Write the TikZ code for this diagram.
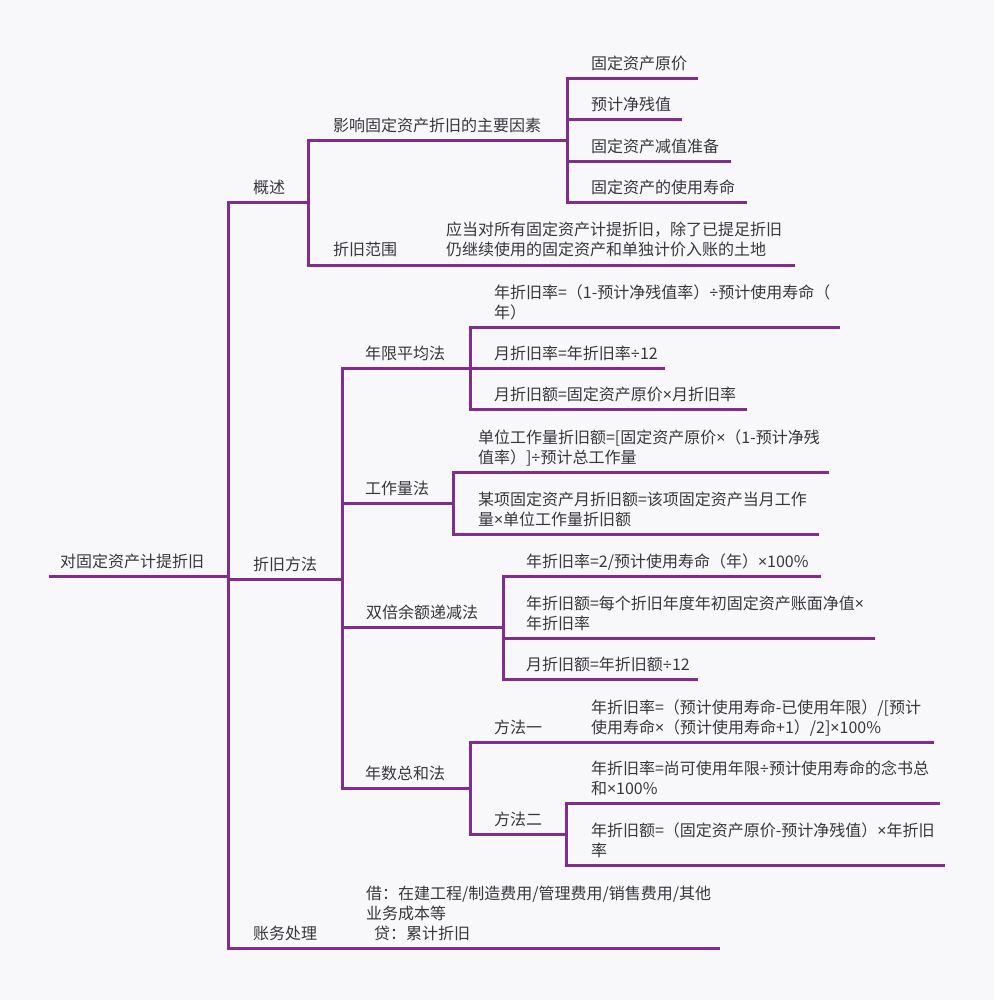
\documentclass[tikz,border=0pt]{standalone}
\usepackage{fontspec}
\newfontfamily\cjk{Noto Sans CJK SC}
\newfontfamily\latn{Noto Sans}
\newcommand{\mulsign}{{\latn ×}}
\newcommand{\divsign}{{\latn ÷}}
\definecolor{mmpurple}{RGB}{128,45,140}
\definecolor{mmtext}{RGB}{55,55,60}
\definecolor{mmback}{RGB}{248,248,250}
\tikzset{topic/.style={anchor=south west, inner sep=0pt, outer sep=0pt, text depth=0pt, align=left, font=\cjk\fontsize{8}{10}\selectfont, text=mmtext},
    branch/.style={draw=mmpurple, line width=1.5pt, line cap=rect}}

\begin{document}
\begin{tikzpicture}[x=0.5pt, y=-0.5pt]
    \fill[mmback] (0,0) rectangle (994,1000);
    \useasboundingbox (0,0) rectangle (994,1000);

    % root and first level
    \coordinate (rootL) at (50,576); \coordinate (rootR) at (228,576);
    \node[topic] (root) at (60,567) {对固定资产计提折旧};
    \coordinate (gsL) at (228,203); \coordinate (gsR) at (308,203);
    \node[topic] (gs) at (253,194) {概述};
    \coordinate (zjffL) at (228,579); \coordinate (zjffR) at (342,579);
    \node[topic] (zjff) at (253,570) {折旧方法};
    \coordinate (zwclL) at (228,948); \coordinate (zwclR) at (340,948);
    \node[topic] (zwcl) at (253,939) {账务处理};

    \draw[branch] (rootL) -- (rootR);
    \draw[branch] (gsL) -- (gsR);
    \draw[branch] (zjffL) -- (zjffR);
    \draw[branch] (zwclL) -- (zwclR);
    \path[branch] (rootR) edge (gsL) edge (zjffL) edge (zwclL);

    % overview
    \begin{scope}
    \coordinate (yxL) at (308,141); \coordinate (yxR) at (567,141);
    \node[topic] (yx) at (333,132) {影响固定资产折旧的主要因素};
    \coordinate (fwL) at (308,265); \coordinate (fwR) at (421,265);
    \node[topic] (fw) at (333,256) {折旧范围};
    \coordinate (fwtL) at (421,265); \coordinate (fwtR) at (793,265);
    \node[topic] (fwt) at (446,256) {应当对所有固定资产计提折旧，除了已提足折旧\\仍继续使用的固定资产和单独计价入账的土地};

    \coordinate (f1L) at (567,79); \coordinate (f1R) at (696,79);
    \node[topic] (f1) at (591,70) {固定资产原价};
    \coordinate (f2L) at (567,120); \coordinate (f2R) at (680,120);
    \node[topic] (f2) at (591,111) {预计净残值};
    \coordinate (f3L) at (567,162); \coordinate (f3R) at (729,162);
    \node[topic] (f3) at (591,153) {固定资产减值准备};
    \coordinate (f4L) at (567,203); \coordinate (f4R) at (745,203);
    \node[topic] (f4) at (591,194) {固定资产的使用寿命};

    \draw[branch] (yxL) -- (yxR);
    \draw[branch] (fwL) -- (fwR);
    \draw[branch] (fwtL) -- (fwtR);
    \draw[branch] (f1L) -- (f1R);
    \draw[branch] (f2L) -- (f2R);
    \draw[branch] (f3L) -- (f3R);
    \draw[branch] (f4L) -- (f4R);
    \path[branch] (gsR) edge (yxL) edge (fwL)
        (yxR) edge (f1L) edge (f2L) edge (f3L) edge (f4L)
        (fwR) edge (fwtL);
    \end{scope}

    % methods
    \begin{scope}
    \coordinate (nxL) at (342,368); \coordinate (nxR) at (470,368);
    \node[topic] (nx) at (365,359) {年限平均法};
    \coordinate (n1L) at (470,327); \coordinate (n1R) at (838,327);
    \node[topic] (n1) at (494,318) {年折旧率=（1-预计净残值率）\divsign 预计使用寿命（\\年）};
    \coordinate (n2L) at (470,368); \coordinate (n2R) at (663,368);
    \node[topic] (n2) at (494,359) {月折旧率=年折旧率\divsign 12};
    \coordinate (n3L) at (470,409); \coordinate (n3R) at (745,409);
    \node[topic] (n3) at (494,400) {月折旧额=固定资产原价\mulsign 月折旧率};

    \coordinate (gzlL) at (342,503); \coordinate (gzlR) at (453,503);
    \node[topic] (gzl) at (365,494) {工作量法};
    \coordinate (g1L) at (453,472); \coordinate (g1R) at (827,472);
    \node[topic] (g1) at (478,463) {单位工作量折旧额=[固定资产原价\mulsign （1-预计净残\\值率）]\divsign 预计总工作量};
    \coordinate (g2L) at (453,534); \coordinate (g2R) at (817,534);
    \node[topic] (g2) at (478,525) {某项固定资产月折旧额=该项固定资产当月工作\\量\mulsign 单位工作量折旧额};

    \coordinate (sbL) at (342,627); \coordinate (sbR) at (503,627);
    \node[topic] (sb) at (366,618) {双倍余额递减法};
    \coordinate (s1L) at (503,576); \coordinate (s1R) at (819,576);
    \node[topic] (s1) at (526,567) {年折旧率=2/预计使用寿命（年）\mulsign 100\%};
    \coordinate (s2L) at (503,638); \coordinate (s2R) at (873,638);
    \node[topic] (s2) at (526,629) {年折旧额=每个折旧年度年初固定资产账面净值\mulsign\\年折旧率};
    \coordinate (s3L) at (503,679); \coordinate (s3R) at (696,679);
    \node[topic] (s3) at (526,670) {月折旧额=年折旧额\divsign 12};

    \coordinate (nsL) at (342,788); \coordinate (nsR) at (470,788);
    \node[topic] (ns) at (365,779) {年数总和法};
    \coordinate (m1L) at (470,742); \coordinate (m1R) at (567,742);
    \node[topic] (m1) at (494,733) {方法一};
    \coordinate (m1aL) at (567,742); \coordinate (m1aR) at (932,742);
    \node[topic] (m1a) at (591,733) {年折旧率=（预计使用寿命-已使用年限）/[预计\\使用寿命\mulsign （预计使用寿命+1）/2]\mulsign 100\%};
    \coordinate (m2L) at (470,834); \coordinate (m2R) at (566,834);
    \node[topic] (m2) at (494,825) {方法二};
    \coordinate (m2aL) at (566,803); \coordinate (m2aR) at (938,803);
    \node[topic] (m2a) at (591,794) {年折旧率=尚可使用年限\divsign 预计使用寿命的念书总\\和\mulsign 100\%};
    \coordinate (m2bL) at (566,865); \coordinate (m2bR) at (943,865);
    \node[topic] (m2b) at (591,856) {年折旧额=（固定资产原价-预计净残值）\mulsign 年折旧\\率};

    \draw[branch] (nxL) -- (nxR);
    \draw[branch] (n1L) -- (n1R);
    \draw[branch] (n2L) -- (n2R);
    \draw[branch] (n3L) -- (n3R);
    \draw[branch] (gzlL) -- (gzlR);
    \draw[branch] (g1L) -- (g1R);
    \draw[branch] (g2L) -- (g2R);
    \draw[branch] (sbL) -- (sbR);
    \draw[branch] (s1L) -- (s1R);
    \draw[branch] (s2L) -- (s2R);
    \draw[branch] (s3L) -- (s3R);
    \draw[branch] (nsL) -- (nsR);
    \draw[branch] (m1L) -- (m1R);
    \draw[branch] (m1aL) -- (m1aR);
    \draw[branch] (m2L) -- (m2R);
    \draw[branch] (m2aL) -- (m2aR);
    \draw[branch] (m2bL) -- (m2bR);
    \path[branch] (zjffR) edge (nxL) edge (gzlL) edge (sbL) edge (nsL)
        (nxR) edge (n1L) edge (n2L) edge (n3L)
        (gzlR) edge (g1L) edge (g2L)
        (sbR) edge (s1L) edge (s2L) edge (s3L)
        (nsR) edge (m1L) edge (m2L)
        (m1R) edge (m1aL)
        (m2R) edge (m2aL) edge (m2bL);
    \end{scope}

    % bookkeeping
    \coordinate (zeL) at (340,948); \coordinate (zeR) at (718,948);
    \node[topic] (ze) at (366,939) {借：在建工程/制造费用/管理费用/销售费用/其他\\业务成本等\\\hspace{4pt}贷：累计折旧};
    \draw[branch] (zeL) -- (zeR);
    \path[branch] (zwclR) edge (zeL);
\end{tikzpicture}
\end{document}
